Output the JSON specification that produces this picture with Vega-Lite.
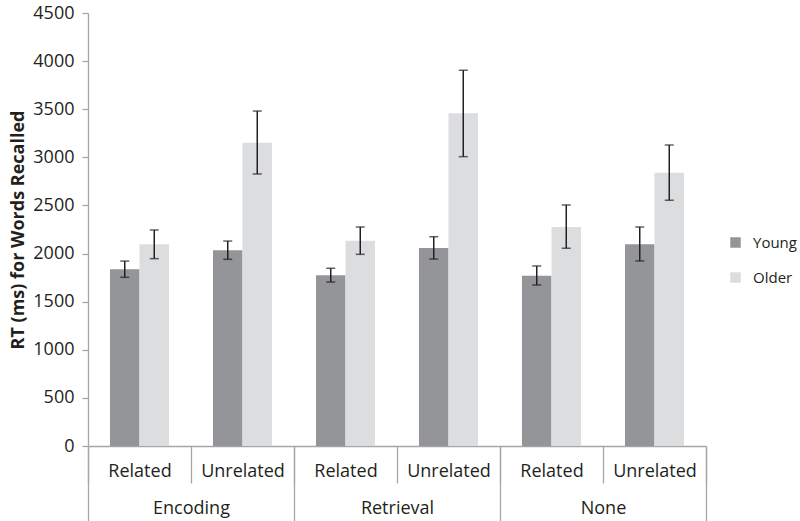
{
  "$schema": "https://vega.github.io/schema/vega-lite/v6.json",
  "width": 618,
  "height": 433,
  "autosize": "none",
  "padding": {"left": 88, "top": 13, "right": 94, "bottom": 75},
  "background": "white",
  "config": {
    "view": {"stroke": null},
    "font": "Open Sans",
    "axis": {"labelColor": "#231f20", "titleColor": "#231f20", "domainColor": "#a6a6a6", "tickColor": "#a6a6a6", "domainWidth": 1.3, "tickWidth": 1.3, "grid": false, "labelFontSize": 18, "labelFont": "Open Sans"},
    "legend": {"labelColor": "#231f20", "labelFont": "Open Sans"}
  },
  "data": {
    "values": [
      {"group": "Encoding", "type": "Related", "cond": "Encoding|Related", "age": "Young", "mean": 1836, "lo": 1753, "hi": 1922},
      {"group": "Encoding", "type": "Related", "cond": "Encoding|Related", "age": "Older", "mean": 2096, "lo": 1947, "hi": 2245},
      {"group": "Encoding", "type": "Unrelated", "cond": "Encoding|Unrelated", "age": "Young", "mean": 2034, "lo": 1940, "hi": 2130},
      {"group": "Encoding", "type": "Unrelated", "cond": "Encoding|Unrelated", "age": "Older", "mean": 3152, "lo": 2827, "hi": 3481},
      {"group": "Retrieval", "type": "Related", "cond": "Retrieval|Related", "age": "Young", "mean": 1774, "lo": 1704, "hi": 1847},
      {"group": "Retrieval", "type": "Related", "cond": "Retrieval|Related", "age": "Older", "mean": 2134, "lo": 1992, "hi": 2276},
      {"group": "Retrieval", "type": "Unrelated", "cond": "Retrieval|Unrelated", "age": "Young", "mean": 2058, "lo": 1943, "hi": 2175},
      {"group": "Retrieval", "type": "Unrelated", "cond": "Retrieval|Unrelated", "age": "Older", "mean": 3458, "lo": 3007, "hi": 3905},
      {"group": "None", "type": "Related", "cond": "None|Related", "age": "Young", "mean": 1770, "lo": 1673, "hi": 1871},
      {"group": "None", "type": "Related", "cond": "None|Related", "age": "Older", "mean": 2276, "lo": 2055, "hi": 2505},
      {"group": "None", "type": "Unrelated", "cond": "None|Unrelated", "age": "Young", "mean": 2096, "lo": 1923, "hi": 2276},
      {"group": "None", "type": "Unrelated", "cond": "None|Unrelated", "age": "Older", "mean": 2841, "lo": 2554, "hi": 3128}
    ]
  },
  "layer": [
    {
      "mark": {"type": "rule", "opacity": 0},
      "encoding": {
        "x": {
          "field": "group", "type": "nominal", "sort": ["Encoding", "Retrieval", "None"],
          "scale": {"paddingInner": 0, "paddingOuter": 0},
          "axis": {"orient": "bottom", "title": null, "tickBand": "extent", "tickSize": 75, "labelPadding": -22, "labelAngle": 0, "domain": false}
        }
      }
    },
    {
      "encoding": {
        "x": {
          "field": "cond", "type": "nominal", "sort": null,
          "scale": {"paddingInner": 0, "paddingOuter": 0},
          "axis": {"orient": "bottom", "title": null, "tickBand": "extent", "tickSize": 37, "labelPadding": -21, "labelAngle": 0, "labelExpr": "split(datum.label, '|')[1]"}
        },
        "xOffset": {"field": "age", "type": "nominal", "scale": {"domain": ["Young", "Older"], "paddingOuter": 0.745, "paddingInner": 0}}
      },
      "layer": [
        {
          "mark": {"type": "bar"},
          "encoding": {
            "y": {
              "field": "mean", "type": "quantitative",
              "scale": {"domain": [0, 4500], "nice": false},
              "axis": {"title": "RT (ms) for Words Recalled", "titleFontSize": 18, "titleFontWeight": "bold", "titleFont": "Open Sans", "values": [0, 500, 1000, 1500, 2000, 2500, 3000, 3500, 4000, 4500], "format": "d", "tickSize": 6, "labelPadding": 8, "titlePadding": 5}
            },
            "color": {
              "field": "age", "type": "nominal",
              "scale": {"domain": ["Young", "Older"], "range": ["#939598", "#dcdddf"]},
              "legend": {"orient": "none", "legendX": 640, "legendY": 222, "title": null, "symbolType": "square", "symbolSize": 110, "symbolStrokeWidth": 0, "labelFontSize": 15, "rowPadding": 19, "labelOffset": 10, "padding": 0}
            }
          }
        },
        {
          "mark": {"type": "rule", "color": "#231f20", "strokeWidth": 1.5},
          "encoding": {
            "y": {"field": "lo", "type": "quantitative"},
            "y2": {"field": "hi"}
          }
        },
        {
          "mark": {"type": "tick", "color": "#231f20", "thickness": 1.5, "size": 9},
          "encoding": {"y": {"field": "lo", "type": "quantitative"}}
        },
        {
          "mark": {"type": "tick", "color": "#231f20", "thickness": 1.5, "size": 9},
          "encoding": {"y": {"field": "hi", "type": "quantitative"}}
        }
      ]
    }
  ],
  "resolve": {"scale": {"x": "independent"}, "axis": {"x": "independent"}}
}
